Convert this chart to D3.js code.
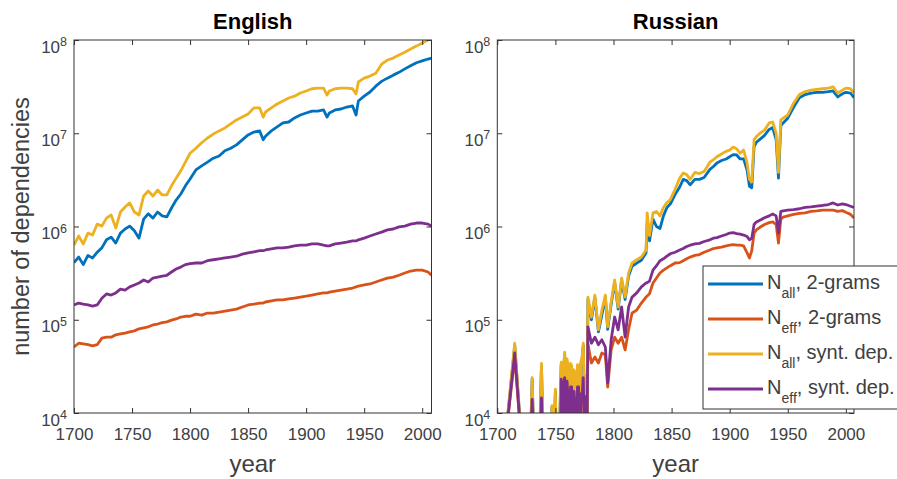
<!DOCTYPE html>
<html>
<head>
<meta charset="utf-8">
<script src="https://cdn.jsdelivr.net/npm/d3@7"></script>
<style>
  body { margin: 0; background: #fff; }
  svg { display: block; font-family: "Liberation Sans", Arial, Helvetica, sans-serif; }
</style>
</head>
<body>
<svg id="chart" width="897" height="479"></svg>
<script>
// ---- data ----
const xTicks = [1700, 1750, 1800, 1850, 1900, 1950, 2000];
const yTicks = [1e4, 1e5, 1e6, 1e7, 1e8];

const engYears = [1700,1704,1708,1712,1716,1720,1724,1728,1732,1736,1740,1744,1748,1752,1756,1760,1764,1768,1772,1776,1780,1784,1788,1792,1796,1800,
  1805,1810,1815,1820,1825,1830,1835,1840,1845,1850,1855,1860,1863,1865,1870,1875,1880,1885,1890,1895,1900,1905,1910,1915,1918,
  1920,1925,1930,1935,1940,1943,1945,1950,1955,1960,1965,1970,1975,1980,1985,1990,1995,2000,2005,2008];
const engNall2 = [4.1e5,4.7e5,3.9e5,4.9e5,4.6e5,5.3e5,5.9e5,7.2e5,7.7e5,6.65e5,8.5e5,9.4e5,1.01e6,9.0e5,7.5e5,1.2e6,1.37e6,1.23e6,1.43e6,1.3e6,1.27e6,1.58e6,1.92e6,2.23e6,2.73e6,3.23e6,
  4.04e6,4.46e6,4.9e6,5.4e6,5.7e6,6.5e6,6.9e6,7.5e6,8.5e6,9.6e6,1.03e7,1.06e7,8.5e6,9.3e6,1.06e7,1.17e7,1.29e7,1.32e7,1.46e7,1.57e7,1.65e7,1.73e7,1.73e7,1.78e7,1.49e7,
  1.65e7,1.78e7,1.82e7,1.91e7,1.96e7,1.57e7,2.22e7,2.5e7,2.77e7,3.2e7,3.6e7,3.9e7,4.2e7,4.5e7,4.9e7,5.3e7,5.7e7,5.96e7,6.25e7,6.4e7];
const engNeff2 = [5.1e4,5.6e4,5.5e4,5.4e4,5.25e4,5.4e4,6.35e4,6.5e4,6.5e4,6.9e4,7.05e4,7.2e4,7.4e4,7.6e4,8.0e4,8.2e4,8.4e4,8.8e4,9.0e4,9.3e4,9.5e4,9.9e4,1.02e5,1.07e5,1.09e5,1.09e5,
  1.15e5,1.12e5,1.18e5,1.18e5,1.21e5,1.24e5,1.27e5,1.30e5,1.37e5,1.44e5,1.47e5,1.51e5,1.51e5,1.55e5,1.59e5,1.63e5,1.63e5,1.67e5,1.71e5,1.75e5,1.79e5,1.84e5,1.89e5,1.94e5,1.94e5,
  1.98e5,2.03e5,2.08e5,2.13e5,2.19e5,2.25e5,2.3e5,2.36e5,2.42e5,2.54e5,2.67e5,2.8e5,2.87e5,3.0e5,3.17e5,3.33e5,3.4e5,3.4e5,3.25e5,3.0e5];
const engNallSynt = [6.3e5,7.9e5,6.5e5,8.5e5,8.1e5,1.06e6,1.01e6,1.23e6,1.33e6,9.6e5,1.43e6,1.62e6,1.79e6,1.43e6,1.33e6,2.12e6,2.4e6,2.12e6,2.46e6,2.18e6,2.18e6,2.73e6,3.3e6,3.95e6,4.9e6,6.1e6,
  6.9e6,7.9e6,8.9e6,9.8e6,1.06e7,1.14e7,1.26e7,1.39e7,1.49e7,1.61e7,1.87e7,1.87e7,1.49e7,1.69e7,1.87e7,2.06e7,2.22e7,2.39e7,2.5e7,2.7e7,2.84e7,3.0e7,3.05e7,3.05e7,2.57e7,
  2.84e7,3.0e7,3.05e7,3.05e7,3.0e7,2.64e7,3.55e7,3.9e7,4.1e7,4.4e7,5.5e7,6.1e7,6.4e7,6.9e7,7.4e7,8.0e7,8.6e7,9.3e7,1.0e8,1.05e8];
const engNeffSynt = [1.44e5,1.51e5,1.47e5,1.44e5,1.4e5,1.44e5,1.7e5,1.89e5,1.84e5,1.94e5,2.13e5,2.08e5,2.25e5,2.36e5,2.48e5,2.67e5,2.54e5,2.8e5,2.87e5,2.94e5,3.0e5,3.25e5,3.5e5,3.67e5,3.9e5,4.0e5,
  4.06e5,4.06e5,4.3e5,4.4e5,4.5e5,4.6e5,4.7e5,4.8e5,5.05e5,5.2e5,5.35e5,5.5e5,5.5e5,5.6e5,5.75e5,5.9e5,5.9e5,6.0e5,6.2e5,6.3e5,6.3e5,6.5e5,6.5e5,6.3e5,6.2e5,
  6.2e5,6.5e5,6.65e5,6.8e5,7.0e5,7.0e5,7.2e5,7.5e5,7.9e5,8.3e5,8.7e5,9.2e5,9.4e5,9.9e5,1.01e6,1.06e6,1.09e6,1.09e6,1.06e6,1.01e6];

// Russian: 3e3 (and other values under 1e4) fall below the axis, so the line drops out of view
const rusYears = [1700,1705,1715,1722,1728,1730,1732,1736,1738,1740,1746,1747,1748,1750,1751,
  1753,1754,1755,1756,1757,1758,1759,1760,1761,1762,1763,1764,1765,1766,1767,1768,1769,1770,1771,1772,1773,1774,1775,1776,1777,
  1778,1781,1784,1787,1790,1793,1795,1798,1801,1804,1807,1810,1813,1816,1820,1824,1828,
  1829,1831,1834,1837,1840,1843,1846,1849,1853,1857,1860,1863,1866,1870,1874,1878,
  1883,1886,1889,1893,1897,1900,1903,1906,1909,1912,1915,1917,1919,
  1921,1923,1926,1930,1934,1937,1940,1942,1944,1946,
  1950,1955,1960,1965,1970,1975,1980,1985,1989,1993,1997,2000,2004,2007];
const rusNall2 = [3e3,3e3,5.3e4,3e3,3e3,2.3e4,3e3,3e3,3.2e4,3e3,3e3,1.15e4,3e3,1.7e4,3e3,
  3e3,1.1e4,3.3e4,1.4e4,2.8e4,4.2e4,1.85e4,3.55e4,2.9e4,1.5e4,3.2e4,3.0e4,1.3e4,2.7e4,2.2e4,1.1e4,3.1e4,2.8e4,1.4e4,3.4e4,3.75e4,5.3e4,1.2e4,2.35e4,3e3,
  1.65e5,1.0e5,1.74e5,7.4e4,1.12e5,1.74e5,7.9e4,1.46e5,2.52e5,1.3e5,2.65e5,1.65e5,2.95e5,3.75e5,4.05e5,4.35e5,5.2e5,
  1.1e6,7.0e5,1.2e6,1.0e6,9.5e5,1.3e6,1.6e6,1.75e6,2.2e6,2.65e6,3.2e6,3.1e6,2.8e6,3.2e6,3.2e6,3.35e6,
  4.1e6,4.4e6,4.8e6,5.1e6,5.3e6,5.6e6,5.9e6,5.85e6,5.3e6,5.3e6,4.0e6,2.7e6,2.6e6,
  7.2e6,8.0e6,8.6e6,9.5e6,1.1e7,1.15e7,8.5e6,3.3e6,1.2e7,1.29e7,
  1.45e7,1.9e7,2.4e7,2.6e7,2.7e7,2.75e7,2.75e7,2.8e7,2.85e7,2.45e7,2.65e7,2.75e7,2.7e7,2.4e7];
const rusNeff2 = [3e3,3e3,4.0e4,3e3,3e3,1.3e4,3e3,3e3,1.35e4,3e3,3e3,3e3,3e3,3e3,3e3,
  3e3,3e3,2.1e4,5.5e3,1.8e4,2.2e4,4.5e3,2.0e4,1.3e4,4.5e3,1.7e4,1.7e4,3.6e3,1.5e4,1.05e4,3.6e3,1.7e4,1.7e4,4.5e3,1.45e4,1.3e4,2.2e4,4.5e3,1.35e4,3e3,
  5.5e4,3.44e4,3.98e4,3.44e4,4.4e4,4.2e4,1.9e4,4.75e4,6.5e4,5.6e4,6.5e4,4.75e4,7.8e4,1.18e5,1.27e5,1.51e5,1.75e5,
  1.8e5,1.9e5,2.48e5,2.8e5,3.17e5,3.4e5,3.6e5,3.8e5,4.06e5,4.1e5,4.3e5,4.5e5,4.7e5,4.9e5,5.0e5,5.3e5,
  5.6e5,5.8e5,5.9e5,6.0e5,6.2e5,6.3e5,6.4e5,6.3e5,6.3e5,6.2e5,5.2e5,4.6e5,5.5e5,
  8.5e5,9.2e5,9.8e5,1.05e6,1.1e6,1.12e6,1.05e6,6.65e5,1.2e6,1.26e6,
  1.3e6,1.35e6,1.38e6,1.4e6,1.45e6,1.47e6,1.5e6,1.5e6,1.5e6,1.45e6,1.48e6,1.42e6,1.35e6,1.23e6];
const rusNallSynt = [3e3,3e3,5.6e4,3e3,3e3,2.4e4,3e3,3e3,3.4e4,3e3,3e3,1.2e4,3e3,1.8e4,3e3,
  3e3,1.2e4,3.5e4,1.5e4,3.0e4,4.5e4,2.0e4,3.8e4,3.1e4,1.6e4,3.4e4,3.2e4,1.4e4,2.9e4,2.6e4,1.2e4,3.3e4,3.0e4,1.5e4,3.6e4,4.0e4,5.6e4,1.3e4,2.5e4,3e3,
  1.75e5,1.07e5,1.84e5,7.8e4,1.27e5,1.84e5,8.4e4,1.55e5,2.67e5,1.37e5,2.8e5,1.75e5,3.17e5,4.06e5,4.4e5,4.7e5,5.6e5,
  1.4e6,8.0e5,1.4e6,1.45e6,1.3e6,1.6e6,1.8e6,1.95e6,2.5e6,3.3e6,3.75e6,3.6e6,3.2e6,3.8e6,3.7e6,3.9e6,
  4.9e6,5.2e6,5.6e6,6.0e6,6.4e6,6.6e6,7.1e6,6.8e6,6.1e6,6.6e6,4.8e6,3.2e6,3.0e6,
  8.5e6,9.2e6,1.0e7,1.08e7,1.29e7,1.32e7,1.0e7,3.8e6,1.39e7,1.45e7,
  1.57e7,2.1e7,2.6e7,2.8e7,2.9e7,2.95e7,3.0e7,3.05e7,3.15e7,2.7e7,2.9e7,3.05e7,3.0e7,2.7e7];
const rusNeffSynt = [3e3,3e3,4.4e4,3e3,3e3,1.4e4,3e3,3e3,1.45e4,3e3,3e3,3e3,3e3,3e3,3e3,
  3e3,3e3,2.3e4,6e3,2.0e4,2.4e4,5e3,2.2e4,1.4e4,5e3,1.9e4,1.9e4,4e3,1.7e4,1.15e4,4e3,1.9e4,1.9e4,5e3,1.6e4,1.4e4,2.4e4,5e3,1.5e4,3e3,
  8.4e4,5.6e4,6.5e4,5.4e4,6.1e4,5.1e4,2.1e4,6.1e4,1.07e5,7.8e4,1.37e5,6.5e4,1.37e5,1.75e5,1.94e5,2.25e5,2.48e5,
  2.5e5,2.6e5,3.4e5,3.8e5,4.3e5,4.5e5,4.8e5,5.1e5,5.3e5,5.6e5,5.8e5,6.1e5,6.3e5,6.5e5,6.6e5,6.9e5,
  7.2e5,7.5e5,7.6e5,7.9e5,8.2e5,8.5e5,8.6e5,8.4e5,8.3e5,8.1e5,7.8e5,7.2e5,7.5e5,
  1.05e6,1.12e6,1.17e6,1.24e6,1.3e6,1.36e6,1.3e6,8.5e5,1.45e6,1.47e6,
  1.5e6,1.52e6,1.55e6,1.6e6,1.62e6,1.65e6,1.68e6,1.72e6,1.79e6,1.7e6,1.75e6,1.72e6,1.65e6,1.6e6];

const seriesColors = ['#0072BD', '#D95319', '#EDB120', '#7E2F8E'];
const legendSub = ['all', 'eff', 'all', 'eff'];
const legendRest = [', 2-grams', ', 2-grams', ', synt. dep.', ', synt. dep.'];

// ---- layout ----
const plotTop = 40, plotBottom = 413;
const axisColor = '#333333';
const textColor = '#404040';
const svg = d3.select('#chart');

const panels = [
  { title: 'English', years: engYears, series: [engNall2, engNeff2, engNallSynt, engNeffSynt], left: 74, right: 431.5, xMax: 2008 },
  { title: 'Russian', years: rusYears, series: [rusNall2, rusNeff2, rusNallSynt, rusNeffSynt], left: 497.3, right: 854, xMax: 2007 }
];

const yScale = d3.scaleLog().domain([1e4, 1e8]).range([plotBottom, plotTop]);

panels.forEach((p, i) => {
  const xScale = d3.scaleLinear().domain([1700, p.xMax]).range([p.left, p.right]);
  const g = svg.append('g').attr('class', 'panel-' + i);

  g.append('clipPath').attr('id', 'clip' + i)
    .append('rect')
    .attr('x', p.left).attr('y', plotTop)
    .attr('width', p.right - p.left).attr('height', plotBottom - plotTop);

  const line = d3.line()
    .x((d, j) => xScale(p.years[j]))
    .y(d => yScale(d));

  g.append('g').attr('clip-path', `url(#clip${i})`)
    .selectAll('path')
    .data(p.series)
    .enter()
    .append('path')
    .attr('d', d => line(d))
    .attr('fill', 'none')
    .attr('stroke', (d, k) => seriesColors[k])
    .attr('stroke-width', 2.8)
    .attr('stroke-linejoin', 'round');

  // ticks on all four sides, pointing inwards
  const xb = g.append('g').attr('transform', `translate(0,${plotBottom})`)
    .call(d3.axisBottom(xScale).tickValues(xTicks).tickSizeInner(-5).tickSizeOuter(0).tickPadding(15).tickFormat(d => d));
  g.append('g').attr('transform', `translate(0,${plotTop})`)
    .call(d3.axisTop(xScale).tickValues(xTicks).tickSizeInner(-5).tickSizeOuter(0).tickFormat(() => ''));
  g.append('g').attr('transform', `translate(${p.left},0)`)
    .call(d3.axisLeft(yScale).tickValues(yTicks).tickSizeInner(-5).tickSizeOuter(0).tickFormat(() => ''));
  g.append('g').attr('transform', `translate(${p.right},0)`)
    .call(d3.axisRight(yScale).tickValues(yTicks).tickSizeInner(-5).tickSizeOuter(0).tickFormat(() => ''));

  g.selectAll('.domain').remove();
  g.selectAll('.tick line').attr('stroke', axisColor).attr('stroke-width', 1);
  xb.selectAll('text')
    .attr('fill', textColor)
    .style('font-size', '17px')
    .style('font-family', '"Liberation Sans", Arial, sans-serif');

  // log tick labels 10^n
  const yl = g.append('g').selectAll('text')
    .data(yTicks)
    .enter()
    .append('text')
    .attr('x', p.left - 7)
    .attr('y', d => yScale(d) + 12.5)
    .attr('text-anchor', 'end')
    .attr('fill', textColor)
    .style('font-size', '17px')
    .text('10');
  yl.append('tspan')
    .attr('dy', -6.5)
    .style('font-size', '12.5px')
    .text(d => Math.round(Math.log10(d)));

  g.append('rect')
    .attr('x', p.left).attr('y', plotTop)
    .attr('width', p.right - p.left).attr('height', plotBottom - plotTop)
    .attr('fill', 'none')
    .attr('stroke', axisColor)
    .attr('stroke-width', 1);

  g.append('text')
    .attr('x', (p.left + p.right) / 2)
    .attr('y', 28.5)
    .attr('text-anchor', 'middle')
    .style('font-size', '22px')
    .style('font-weight', 'bold')
    .attr('fill', '#000')
    .text(p.title);

  g.append('text')
    .attr('x', (p.left + p.right) / 2)
    .attr('y', 472)
    .attr('text-anchor', 'middle')
    .style('font-size', '24px')
    .attr('fill', textColor)
    .text('year');
});

svg.append('text')
  .attr('transform', `translate(29,${(plotTop + plotBottom) / 2}) rotate(-90)`)
  .attr('text-anchor', 'middle')
  .style('font-size', '23.5px')
  .attr('fill', textColor)
  .text('number of dependencies');

// legend (runs off the right edge as in the reference)
const legend = svg.append('g').attr('class', 'legend');
legend.append('rect')
  .attr('x', 703).attr('y', 266)
  .attr('width', 230).attr('height', 143)
  .attr('fill', '#fff')
  .attr('stroke', axisColor)
  .attr('stroke-width', 1);

const rows = legend.selectAll('g.row')
  .data(seriesColors)
  .enter()
  .append('g')
  .attr('class', 'row')
  .attr('transform', (d, i) => `translate(0,${284 + i * 35})`);

rows.append('line')
  .attr('x1', 708).attr('x2', 763)
  .attr('y1', 0).attr('y2', 0)
  .attr('stroke', d => d)
  .attr('stroke-width', 2.8);

const lt = rows.append('text')
  .attr('x', 767)
  .attr('y', 5)
  .attr('fill', textColor)
  .style('font-size', '20px')
  .text('N');
lt.append('tspan')
  .attr('dy', 9)
  .style('font-size', '14px')
  .text((d, i) => legendSub[i]);
lt.append('tspan')
  .attr('dy', -9)
  .text((d, i) => legendRest[i]);
</script>
</body>
</html>
